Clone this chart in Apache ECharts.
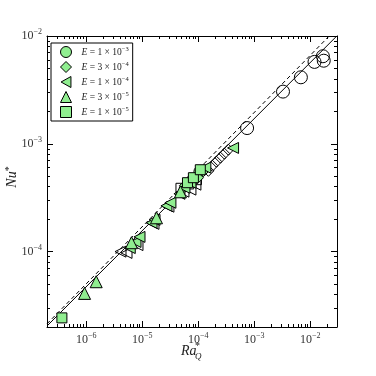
<!DOCTYPE html>
<html>
<head>
<meta charset="utf-8">
<script src="https://cdn.jsdelivr.net/npm/echarts@6/dist/echarts.min.js"></script>
<style>
  html, body { margin: 0; padding: 0; background: #fff; }
  #chart { width: 376px; height: 376px; }
</style>
</head>
<body>
<div id="chart"></div>
<script>
// axis ranges (data units)
var xMin = 2e-7, xMax = 3e-2, yMin = 2e-5, yMax = 1e-2;
var xDecades = [-6, -5, -4, -3, -2];
var yDecades = [-4, -3, -2];

// filled markers, one pair of arrays per Ekman number
var raE1e3 = [7.9e-5, 1.05e-4];
var nuE1e3 = [4.65e-4, 5.52e-4];
var raE3e4 = [5.9e-5, 9.7e-5, 1.24e-4];
var nuE3e4 = [4.08e-4, 4.85e-4, 5.64e-4];
var raE1e4 = [6.0e-6, 7.6e-6, 8.95e-6, 1.47e-5, 1.66e-5, 2.71e-5, 3.19e-5, 4.62e-5, 5.68e-5, 7.26e-5, 1.34e-4, 4.19e-4];
var nuE1e4 = [1.08e-4, 1.23e-4, 1.37e-4, 1.85e-4, 1.97e-4, 2.66e-4, 2.84e-4, 3.44e-4, 3.91e-4, 4.36e-4, 6.01e-4, 9.16e-4];
var raE3e5 = [9.36e-7, 1.51e-6, 6.44e-6, 1.8e-5, 4.82e-5];
var nuE3e5 = [4.1e-5, 5.26e-5, 1.21e-4, 2.06e-4, 3.59e-4];
var raE1e5 = [3.69e-7, 6.43e-5, 8.2e-5, 1.09e-4];
var nuE1e5 = [2.43e-5, 4.36e-4, 4.85e-4, 5.75e-4];

// open markers (no legend entry)
var raOpenCircle = [0.0168, 0.0174, 0.0119, 6.8e-3, 3.26e-3, 7.45e-4];
var nuOpenCircle = [6.49e-3, 5.9e-3, 5.75e-3, 4.14e-3, 3.05e-3, 1.4e-3];
var raOpenDiamond = [1.52e-4, 1.79e-4, 2.11e-4, 2.49e-4, 2.93e-4, 3.45e-4];
var nuOpenDiamond = [5.62e-4, 6.26e-4, 6.83e-4, 7.44e-4, 8.11e-4, 8.83e-4];
var raOpenTri = [4.1e-6, 5.25e-6, 8.24e-6, 1.59e-5, 2.94e-5, 5.45e-5, 8.91e-5, 7.26e-5];
var nuOpenTri = [1.0e-4, 9.73e-5, 1.15e-4, 1.81e-4, 2.61e-4, 3.6e-4, 4.18e-4, 3.76e-4];
var raOpenSquare = [4.82e-5, 6.9e-5, 9.5e-5];
var nuOpenSquare = [3.91e-4, 4.2e-4, 4.6e-4];

// fits Nu* = c Ra*^a
var fitSolid = { c: 0.0622, a: 0.52 };
var fitDashed = { c: 0.076, a: 0.53 };

var legendMant = ['1', '3', '1', '3', '1'];
var legendExp = ['3', '4', '4', '5', '5'];
var legendNames = ['E1e-3', 'E3e-4', 'E1e-4', 'E3e-5', 'E1e-5'];
var legendIcons = ['circle', 'diamond', 'path://M0,5L9,0L9,10Z', 'triangle', 'rect'];

var lg = Math.log10;
var serif = '"Liberation Serif", "DejaVu Serif", serif';

function pts(ra, nu) {
    return ra.map(function (r, i) { return [lg(r), lg(nu[i])]; });
}
function fitLine(f) {
    return [xMin, xMax].map(function (r) { return [lg(r), lg(f.c * Math.pow(r, f.a))]; });
}
function minorTicks(lo, hi) {
    var out = [];
    for (var n = -8; n <= 0; n++) {
        for (var k = 2; k <= 9; k++) {
            var v = n + lg(k);
            if (v > lo && v < hi) out.push(v);
        }
    }
    return out;
}
function powLabel(v) {
    return '{b|10}{s|\u2212' + (-v) + '}';
}

var labelRich = {
    b: { fontFamily: serif, fontSize: 12, color: '#333' },
    s: { fontFamily: serif, fontSize: 8, color: '#333', padding: [0, 0, 8, 0] }
};

function makeAxis(pos, lo, hi, ticks, len, major, labels) {
    return {
        type: 'value',
        position: pos,
        min: lo,
        max: hi,
        splitLine: { show: false },
        axisLine: { show: major, onZero: false, lineStyle: { color: '#000', width: 1 } },
        axisTick: { show: true, inside: true, length: len, customValues: ticks, lineStyle: { color: '#000', width: 1 } },
        axisLabel: labels ? {
            show: true, customValues: ticks, margin: 5,
            formatter: powLabel, rich: labelRich
        } : { show: false }
    };
}

var x0 = lg(xMin), x1 = lg(xMax), y0 = lg(yMin), y1 = lg(yMax);

var green = '#90ee90';
function scatter(name, ra, nu, symbol, size, rot, filled) {
    return {
        type: 'scatter',
        name: name,
        data: pts(ra, nu),
        symbol: symbol,
        symbolSize: size,
        symbolRotate: rot,
        itemStyle: { color: filled ? green : 'rgba(0,0,0,0)', borderColor: '#000', borderWidth: 1, opacity: 1 },
        emphasis: { disabled: true },
        z: 3
    };
}

var chart = echarts.init(document.getElementById('chart'));
chart.setOption({
    animation: false,
    backgroundColor: '#fff',
    grid: { left: 47, right: 39, top: 36, bottom: 49 },
    xAxis: [
        makeAxis('bottom', x0, x1, xDecades, 6, true, true),
        makeAxis('bottom', x0, x1, minorTicks(x0, x1), 3, false, false),
        makeAxis('top', x0, x1, xDecades, 6, true, false),
        makeAxis('top', x0, x1, minorTicks(x0, x1), 3, false, false)
    ],
    yAxis: [
        makeAxis('left', y0, y1, yDecades, 6, true, true),
        makeAxis('left', y0, y1, minorTicks(y0, y1), 3, false, false),
        makeAxis('right', y0, y1, yDecades, 6, true, false),
        makeAxis('right', y0, y1, minorTicks(y0, y1), 3, false, false)
    ],
    legend: {
        data: legendNames.map(function (n, i) { return { name: n, icon: legendIcons[i] }; }),
        orient: 'vertical',
        left: 51,
        top: 43,
        padding: [3, 4, 3, 9],
        itemGap: 3,
        itemWidth: 11,
        itemHeight: 11,
        itemStyle: { borderWidth: 1, borderColor: '#000', color: green },
        backgroundColor: '#fff',
        borderColor: '#000',
        borderWidth: 1,
        borderRadius: 0,
        selectedMode: false,
        formatter: function (name) {
            var i = legendNames.indexOf(name);
            return '{i|E} = ' + legendMant[i] + ' \u00d7 10{s|\u2212' + legendExp[i] + '}';
        },
        textStyle: {
            fontFamily: serif, fontSize: 9.5, color: '#222', padding: [0, 0, 0, 5],
            rich: {
                i: { fontFamily: serif, fontSize: 9.5, fontStyle: 'italic', color: '#222' },
                s: { fontFamily: serif, fontSize: 6.5, color: '#222', padding: [0, 0, 5, 0] }
            }
        }
    },
    series: [
        {
            type: 'line', data: fitLine(fitSolid), showSymbol: false, silent: true, z: 1,
            lineStyle: { color: '#000', width: 1 }
        },
        {
            type: 'line', data: fitLine(fitDashed), showSymbol: false, silent: true, z: 1,
            lineStyle: { color: '#000', width: 1, type: [4, 3] }
        },
        scatter('open-c', raOpenCircle, nuOpenCircle, 'circle', 13, 0, false),
        scatter('open-d', raOpenDiamond, nuOpenDiamond, 'diamond', 11, 0, false),
        scatter('open-t', raOpenTri, nuOpenTri, 'triangle', 11, 90, false),
        scatter('open-s', raOpenSquare, nuOpenSquare, 'rect', 9, 0, false),
        scatter('E1e-3', raE1e3, nuE1e3, 'circle', 11, 0, true),
        scatter('E3e-4', raE3e4, nuE3e4, 'diamond', 12, 0, true),
        scatter('E1e-4', raE1e4, nuE1e4, 'triangle', 11, 90, true),
        scatter('E3e-5', raE3e5, nuE3e5, 'triangle', 12, 0, true),
        scatter('E1e-5', raE1e5, nuE1e5, 'rect', 10, 0, true)
    ],
    graphic: [
        {
            type: 'text', x: 12, y: 177, rotation: Math.PI / 2,
            style: {
                text: '{i|Nu}{s|*}', align: 'center', verticalAlign: 'middle',
                rich: {
                    i: { fontFamily: serif, fontSize: 14, fontStyle: 'italic', fill: '#222' },
                    s: { fontFamily: serif, fontSize: 10, fill: '#222', padding: [0, 0, 6, 0] }
                }
            }
        },
        { type: 'text', x: 181, y: 351, style: { text: 'Ra', font: 'italic 14px ' + serif, fill: '#222', verticalAlign: 'middle' } },
        { type: 'text', x: 195, y: 346, style: { text: '*', font: '10px ' + serif, fill: '#222', verticalAlign: 'middle' } },
        { type: 'text', x: 195, y: 357, style: { text: 'Q', font: 'italic 9px ' + serif, fill: '#222', verticalAlign: 'middle' } }
    ]
});
</script>
</body>
</html>
